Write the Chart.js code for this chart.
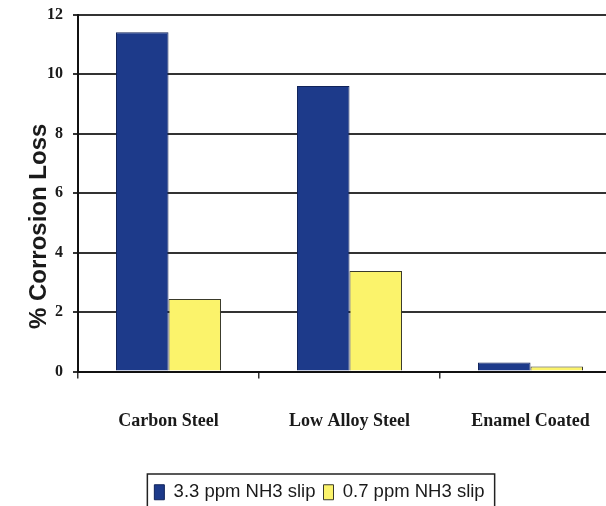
<!DOCTYPE html>
<html>
<head>
<meta charset="utf-8">
<script src="https://cdn.jsdelivr.net/npm/chart.js@4.4.1/dist/chart.umd.min.js"></script>
<style>
  html, body { margin: 0; padding: 0; background: #ffffff; overflow: hidden; }
  #wrap { position: absolute; left: 0; top: 0; width: 625px; height: 520px; }
</style>
</head>
<body>
<div id="wrap"><canvas id="c"></canvas></div>
<script>
const categories = ["Carbon Steel", "Low Alloy Steel", "Enamel Coated"];
const seriesNames = ["3.3 ppm NH3 slip", "0.7 ppm NH3 slip"];
const slip33 = [11.4, 9.6, 0.3];
const slip07 = [2.44, 3.38, 0.17];
const yTicks = [0, 2, 4, 6, 8, 10, 12];
const yTitle = "% Corrosion Loss";

const legendBox = {
  id: 'legendBox',
  afterLayout(chart) {
    const lg = chart.legend;
    if (lg) { lg.left += 9; lg.right += 9; }
  },
  afterDraw(chart) {
    const lg = chart.legend;
    if (!lg || !lg.legendHitBoxes || !lg.legendHitBoxes.length) return;
    const hb = lg.legendHitBoxes;
    let l = Infinity, r = -Infinity, t = Infinity;
    hb.forEach(b => { l = Math.min(l, b.left); r = Math.max(r, b.left + b.width); t = Math.min(t, b.top); });
    const ctx = chart.ctx;
    ctx.save();
    ctx.strokeStyle = '#222';
    ctx.lineWidth = 1.5;
    ctx.strokeRect(l - 7, t - 9, (r - l) + 17, 80);
    ctx.restore();
  }
};

new Chart(document.getElementById('c'), {
  type: 'bar',
  data: {
    labels: categories,
    datasets: [
      { label: seriesNames[0], data: slip33, backgroundColor: '#1d3a8a', borderColor: '#10235a', borderWidth: 1 },
      { label: seriesNames[1], data: slip07, backgroundColor: '#fbf36b', borderColor: '#3a3a2a', borderWidth: 1 }
    ]
  },
  options: {
    responsive: true,
    maintainAspectRatio: false,
    devicePixelRatio: 1,
    animation: false,
    categoryPercentage: 0.58,
    barPercentage: 1.0,
    layout: { padding: { top: 14.5, left: 0, right: 4, bottom: 8.5 } },
    plugins: {
      legend: {
        position: 'bottom',
        labels: {
          font: { family: 'Liberation Sans, Arial, sans-serif', size: 18.5 },
          color: '#1a1a1a',
          boxWidth: 10,
          boxHeight: 15,
          padding: 8
        }
      },
      tooltip: { enabled: false }
    },
    scales: {
      x: {
        offset: true,
        grid: { display: true, drawOnChartArea: false, drawTicks: true, tickLength: 7, color: '#333', lineWidth: 1.5, offset: true },
        border: { display: true, color: '#111', width: 2 },
        ticks: {
          padding: 32,
          color: '#1a1a1a',
          font: { family: 'Liberation Serif, Times New Roman, serif', size: 18, weight: 'bold' },
          maxRotation: 0
        },
        afterFit(scale) { scale.height = 103.5; }
      },
      y: {
        min: 0, max: 12,
        afterBuildTicks(scale) { scale.ticks = yTicks.map(v => ({ value: v })); },
        grid: { color: '#333', lineWidth: 2, tickLength: 5, drawTicks: true },
        border: { display: true, color: '#111', width: 2 },
        ticks: {
          padding: 10,
          color: '#1a1a1a',
          font: { family: 'Liberation Serif, Times New Roman, serif', size: 16, weight: 'bold' }
        },
        title: {
          display: true,
          text: yTitle + '          ',
          color: '#1a1a1a',
          font: { family: 'Liberation Sans, Arial, sans-serif', size: 24, weight: 'bold' },
          padding: { top: 25, bottom: 0 }
        },
        afterFit(scale) { scale.width = 78; scale.paddingTop = 0; scale.paddingBottom = 0; }
      }
    }
  },
  plugins: [legendBox]
});
</script>
</body>
</html>
